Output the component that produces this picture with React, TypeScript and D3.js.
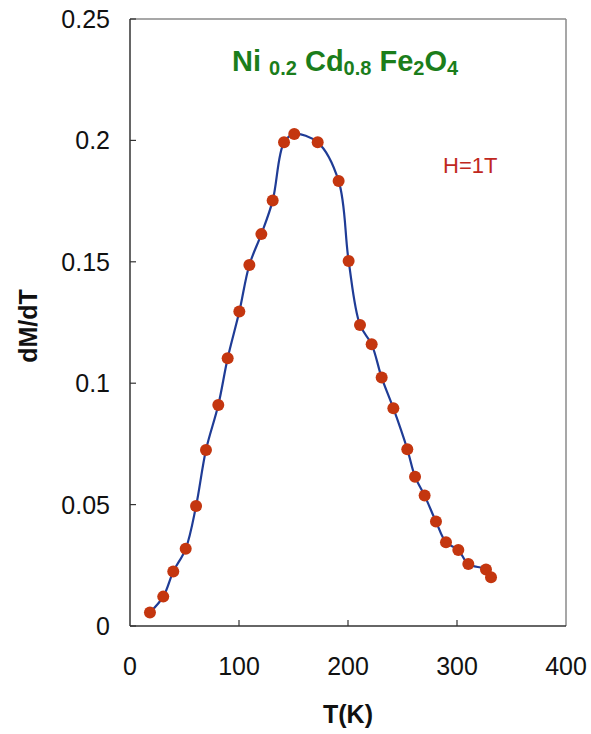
import React from "react";
import * as d3 from "d3";

const temps = [18.3, 30.5, 39.7, 51.1, 60.6, 69.7, 81, 89.6, 100.3, 109.5, 120.5, 130.9, 141.3, 150.7, 172.2, 191.4, 200.6, 211, 221.7, 230.9, 241.6, 254.4, 261.5, 270.3, 280.7, 289.9, 301.2, 310.4, 326.6, 331.2];
const dMdT = [0.0056, 0.0121, 0.0224, 0.0318, 0.0494, 0.0725, 0.091, 0.1103, 0.1295, 0.1487, 0.1614, 0.1752, 0.1992, 0.2026, 0.1992, 0.1833, 0.1503, 0.124, 0.116, 0.1023, 0.0897, 0.0728, 0.0615, 0.0537, 0.043, 0.0345, 0.0313, 0.0255, 0.0233, 0.0201];
const xTicks = [0, 100, 200, 300, 400];
const yTicks = [0, 0.05, 0.1, 0.15, 0.2, 0.25];
const yTickLabels = ["0", "0.05", "0.1", "0.15", "0.2", "0.25"];

const W = 591, H = 734;
const left = 130, right = 566, top = 19, bottom = 626;

export default function App() {
  const x = d3.scaleLinear().domain([0, 400]).range([left, right]);
  const y = d3.scaleLinear().domain([0, 0.25]).range([bottom, top]);
  const pts: [number, number][] = temps.map((t, i) => [t, dMdT[i]]);
  const line = d3.line<[number, number]>()
    .x(d => x(d[0]))
    .y(d => y(d[1]))
    .curve(d3.curveCatmullRom.alpha(0.5));
  const font = "Arial, 'Liberation Sans', Helvetica, sans-serif";
  return (
    <svg width={W} height={H} style={{ position: "absolute", left: 0, top: 0, background: "#fff" }} fontFamily={font}>
      <rect x={0} y={0} width={W} height={H} fill="#fff" />
      {/* frame */}
      <line x1={left} y1={top} x2={right} y2={top} stroke="#8a8a8a" strokeWidth={1.5} />
      <line x1={right} y1={top} x2={right} y2={bottom} stroke="#8a8a8a" strokeWidth={1.5} />
      <line x1={left} y1={top} x2={left} y2={bottom} stroke="#333" strokeWidth={1.5} />
      <line x1={left} y1={bottom} x2={right} y2={bottom} stroke="#333" strokeWidth={1.5} />
      {/* y ticks */}
      {yTicks.map((v, i) => (
        <g key={"y" + i}>
          <line x1={left} x2={left + 6} y1={y(v)} y2={y(v)} stroke="#333" strokeWidth={1.2} />
          <text x={110} y={y(v)} dy="0.36em" textAnchor="end" fontSize={25} fill="#111">{yTickLabels[i]}</text>
        </g>
      ))}
      {/* x ticks */}
      {xTicks.map((v, i) => (
        <g key={"x" + i}>
          {v > 0 && v < 400 && <line x1={x(v)} x2={x(v)} y1={bottom} y2={bottom - 6} stroke="#333" strokeWidth={1.2} />}
          <text x={x(v)} y={675} textAnchor="middle" fontSize={25} fill="#111">{v}</text>
        </g>
      ))}
      <text x={348} y={723} textAnchor="middle" fontSize={25} fontWeight="bold" fill="#111">T(K)</text>
      <text transform="translate(37,326) rotate(-90)" textAnchor="middle" fontSize={25} fontWeight="bold" fill="#111">dM/dT</text>
      {/* title */}
      <text x={232} y={71} fontSize={29} fontWeight="bold" fill="#1b7d1b">
        <tspan>Ni </tspan>
        <tspan fontSize={20} dy={4}>0.2</tspan>
        <tspan dy={-4}> Cd</tspan>
        <tspan fontSize={20} dy={4}>0.8</tspan>
        <tspan dy={-4}> Fe</tspan>
        <tspan fontSize={20} dy={4}>2</tspan>
        <tspan dy={-4}>O</tspan>
        <tspan fontSize={20} dy={4}>4</tspan>
      </text>
      <text x={443} y={173} fontSize={22} fill="#c0281e">H=1T</text>
      {/* curve */}
      <path d={line(pts) || ""} fill="none" stroke="#1f3c96" strokeWidth={2.2} />
      {pts.map((p, i) => (
        <circle key={"p" + i} cx={x(p[0])} cy={y(p[1])} r={6} fill="#c4360f" />
      ))}
    </svg>
  );
}
